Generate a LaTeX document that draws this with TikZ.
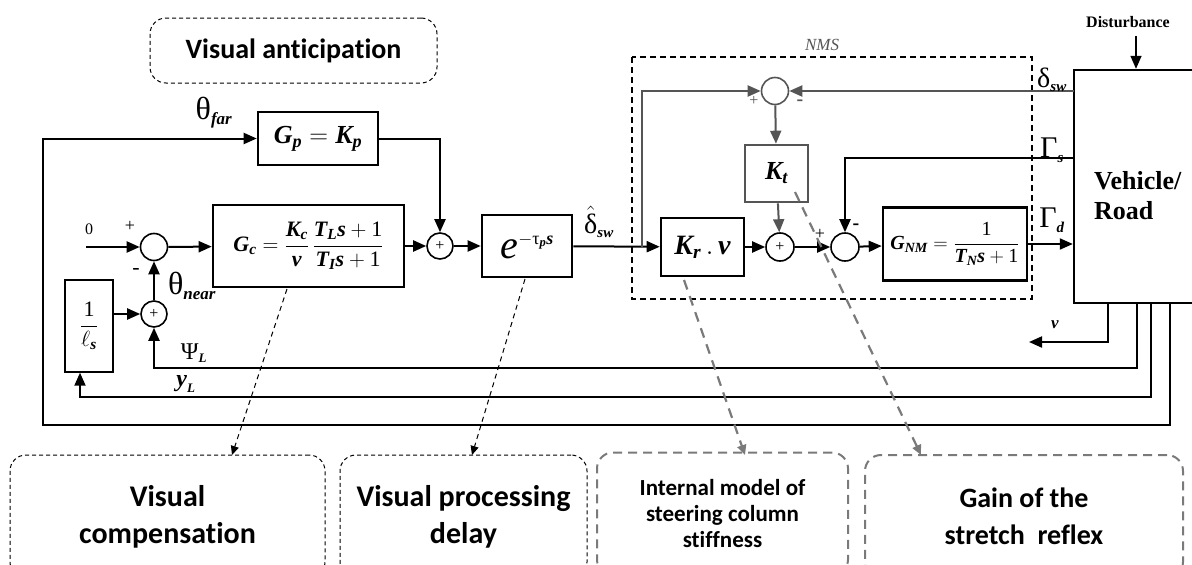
\RequirePackage{fix-cm}
\documentclass[tikz,border=0pt]{standalone}
\usepackage{amsmath}
\usepackage{fontspec}
\setmainfont{Carlito}[Ligatures=NoCommon]
\newfontfamily\tms{Liberation Serif}
\usetikzlibrary{arrows.meta,calc}
\definecolor{gry}{HTML}{555555}
\definecolor{ngry}{HTML}{7A7A7A}
\newcommand{\tv}[1]{\text{\tms\bfseries\itshape #1}}
\newcommand{\tu}[1]{\text{\tms #1}}
\newcommand{\fsz}[2]{\fontsize{#1}{#2}\selectfont}
\newcommand{\sv}[2]{\text{\fontsize{#1}{#1}\selectfont\tms\bfseries\itshape #2}}
\tikzset{
  blk/.style={draw, line width=2.6pt, inner sep=0pt, fill=white},
  sumc/.style={circle, draw, line width=1.6pt, minimum size=27pt, inner sep=0pt, font=\fsz{16}{16}\tms},
  arr/.style={line width=2pt, -{Triangle[length=13pt,width=11pt]}},
  garr/.style={arr, draw=gry},
  note/.style={draw, rounded corners=16pt, dash pattern=on 4pt off 3pt, line width=1pt, align=center, font=\fsz{30}{37}\bfseries},
  gnote/.style={note, draw=ngry, line width=2pt, dash pattern=on 9pt off 6pt},
  ann/.style={line width=1pt, dash pattern=on 5pt off 4pt, -{Triangle[length=9pt,width=8pt]}},
  gann/.style={line width=2.2pt, draw=ngry, dash pattern=on 10pt off 7pt, -{Triangle[length=10pt,width=9pt]}},
  lab/.style={inner sep=0pt},
}
\begin{document}
\begin{tikzpicture}[x=1pt,y=-1pt]
\useasboundingbox (0,0) rectangle (1192,565);
\clip (0,0) rectangle (1192,565);

% annotation boxes
\node[note, minimum width=287pt, minimum height=65pt, font=\fsz{28}{32}\bfseries] (ant) at (293.5,50.5) {Visual anticipation};
\node[note, minimum width=315pt, minimum height=123pt] (vc) at (167.5,516.5) {Visual\\compensation};
\node[note, minimum width=247pt, minimum height=123pt] (vpd) at (463.5,516.5) {Visual processing\\delay};
\node[gnote, minimum width=251pt, minimum height=123pt, font=\fsz{23}{26}\bfseries] (imb) at (722.5,514) {Internal model of\\steering column\\stiffness};
\node[gnote, minimum width=318pt, minimum height=123pt, font=\fsz{28}{37}\bfseries] (gain) at (1024,516.5) {Gain of the\\stretch\ \ reflex};

% NMS box
\draw[line width=1.6pt, dash pattern=on 6pt off 4pt] (632,57) rectangle (1032,299);
\node[lab, font=\fsz{17}{17}\tms\itshape, text=gry] (nms) at (822,45) {NMS};

% blocks
\node[blk, minimum width=120pt, minimum height=53pt] (Gp) at (318,138.5) {\fsz{26}{30}$\tv{G}_{\tv{p}}=\tv{K}_{\tv{p}}$};
\node[blk, minimum width=191pt, minimum height=82pt] (Gc) at (308.5,246) {\fsz{22}{26}$\tv{G}_{\tv{c}}=\dfrac{\tv{K}_{\tv{c}}}{\tv{v}}\,\dfrac{\tv{T}_{\tv{L}}\tv{s}+\tu{1}}{\tv{T}_{\tv{I}}\tv{s}+\tu{1}}$};
\node[sumc] (sum1) at (154,247) {};
\node[sumc, minimum size=26pt] (sump) at (440,246) {+};
\node[blk, minimum width=90pt, minimum height=62pt] (delay) at (527,246) {{\fsz{40}{40}\tms\itshape e}\raisebox{14pt}{\fsz{18}{18}$-\tu{τ}_{\tv{p}}\tv{s}$}};
\node[blk, line width=1.4pt, minimum width=48pt, minimum height=92pt] (lbox) at (89,326) {\fsz{22}{24}$\dfrac{\tu{1}}{\ell_{\tv{s}}}$};
\node[sumc, minimum size=26pt] (sum2) at (154,314) {+};

\node[blk, minimum width=83pt, minimum height=58pt] (Kr) at (702.5,247) {\fsz{28}{30}$\tv{K}_{\tv{r}}\,.\,\tv{v}$};
\node[blk, draw=gry, minimum width=63pt, minimum height=57pt] (Kt) at (776.5,173.5) {\fsz{26}{28}$\tv{K}_{\tv{t}}$};
\node[sumc, draw=gry] (sumt) at (775,91) {};
\node[sumc, minimum size=28pt] (sumk) at (780,247) {+};
\node[sumc, minimum size=28pt] (sumg) at (845,247) {};
\node[blk, minimum width=144pt, minimum height=73pt] (Gnm) at (955,244) {\fsz{20}{24}$\tv{G}_{\tv{NM}}=\dfrac{\tu{1}}{\tv{T}_{\tv{N}}\tv{s}+\tu{1}}$};

\node[draw, line width=2.4pt, minimum width=126pt, minimum height=233pt, inner sep=0pt] (veh) at (1137,186.5) {};
\node[lab, anchor=west, align=left, font=\fsz{26}{30}\tms\bfseries] (vehtxt) at (1094,196) {Vehicle/\\Road};
\node[lab, font=\fsz{16}{16}\tms\bfseries] (dist) at (1128,22) {Disturbance};
\coordinate (dtop) at (1136,36);

% coordinates
\coordinate (in0) at (86,247);
\coordinate (fb) at (642,247);
\coordinate (dsw) at (1074,91);
\coordinate (gs) at (1074,158);
\coordinate (ov) at (1108,303);
\coordinate (vend) at (1029,342);
\coordinate (opsi) at (1137,303);
\coordinate (psiy) at (0,368);
\coordinate (oy) at (1151,303);
\coordinate (yy) at (0,397);
\coordinate (yx) at (80,0);
\coordinate (oo) at (1170,303);
\coordinate (ooy) at (0,425);
\coordinate (ox) at (43,0);

% main path
\draw[arr] (in0) -- (sum1);
\draw[arr] (sum1) -- (Gc);
\draw[arr] (Gc) -- (sump);
\draw[arr] (Gp.east) -| (sump.north);
\draw[arr] (sump) -- (delay);
\draw[arr] (delay) -- (Kr);
\draw[garr] (fb) |- (sumt.west);
\draw[garr] (dsw) -- (sumt.east);
\draw[garr] (sumt) -- (Kt);
\draw[garr] (Kt) -- (sumk);
\draw[arr] (Kr) -- (sumk);
\draw[arr] (sumk) -- (sumg);
\draw[arr] (gs) -| (sumg.north);
\draw[arr] (sumg) -- (Gnm);
\draw[arr] (Gnm.east) -- (Gnm.east -| veh.west);
\draw[arr, line width=1.4pt] (dtop) -- (dtop |- veh.north);

% feedback
\draw[arr] (ov) |- (vend);
\draw[arr] (opsi) |- (psiy -| sum2) -- (sum2);
\draw[arr] (oy) |- (yy -| yx) -- (yx |- lbox.south);
\draw[arr] (lbox.east |- sum2) -- (sum2);
\draw[arr] (sum2) -- (sum1);
\draw[arr] (oo) |- (ooy -| ox) |- (Gp.west);

% annotation arrows
\coordinate (a1) at (287,289);
\coordinate (t1) at (232,455);
\coordinate (a2) at (525,279);
\coordinate (t2) at (472,455);
\coordinate (a3) at (684,280);
\coordinate (t3) at (745,455);
\coordinate (a4) at (795,192);
\coordinate (t4) at (921,455);
\draw[ann] (a1) -- (t1);
\draw[ann] (a2) -- (t2);
\draw[gann] (a3) -- (t3);
\draw[gann] (a4) -- (t4);

% labels
\node[lab] (lfar) at (214,113) {\fsz{32}{34}$\tu{θ}_{\sv{17}{far}}$};
\node[lab] (lnear) at (192,286) {\fsz{32}{34}$\tu{θ}_{\sv{17}{near}}$};
\node[lab, font=\fsz{16}{16}\tms] (l0) at (89,229) {0};
\node[lab, font=\fsz{18}{18}\tms] (lp1) at (130,226) {+};
\node[lab, font=\fsz{22}{22}\tms] (lm1) at (136,271) {-};
\node[lab] (lpsi) at (194,353) {\fsz{24}{26}$\tu{Ψ}_{\sv{13}{L}}$};
\node[lab] (lyl) at (186,384) {\fsz{24}{26}$\tv{y}_{\sv{13}{L}}$};
\node[lab] (lv) at (1055,325) {\fsz{17}{17}$\tv{v}$};
\node[lab] (ldhat) at (599,222) {\fsz{28}{30}$\hat{\tu{δ}}_{\sv{15}{sw}}$};
\node[lab] (ldsw) at (1052,80) {\fsz{28}{30}$\tu{δ}_{\sv{15}{sw}}$};
\node[lab] (lgs) at (1052,150) {\fsz{30}{32}$\tu{Γ}_{\sv{15}{s}}$};
\node[lab] (lgd) at (1052,220) {\fsz{30}{32}$\tu{Γ}_{\sv{15}{d}}$};
\node[lab, font=\fsz{16}{16}\tms, text=gry] (lp2) at (754,101) {+};
\node[lab, font=\fsz{20}{20}\tms\bfseries, text=gry] (lm2) at (800,103) {-};
\node[lab, font=\fsz{18}{18}\tms] (lp3) at (820,234) {+};
\node[lab, font=\fsz{20}{20}\tms\bfseries] (lm3) at (856,227) {-};
\end{tikzpicture}
\end{document}
